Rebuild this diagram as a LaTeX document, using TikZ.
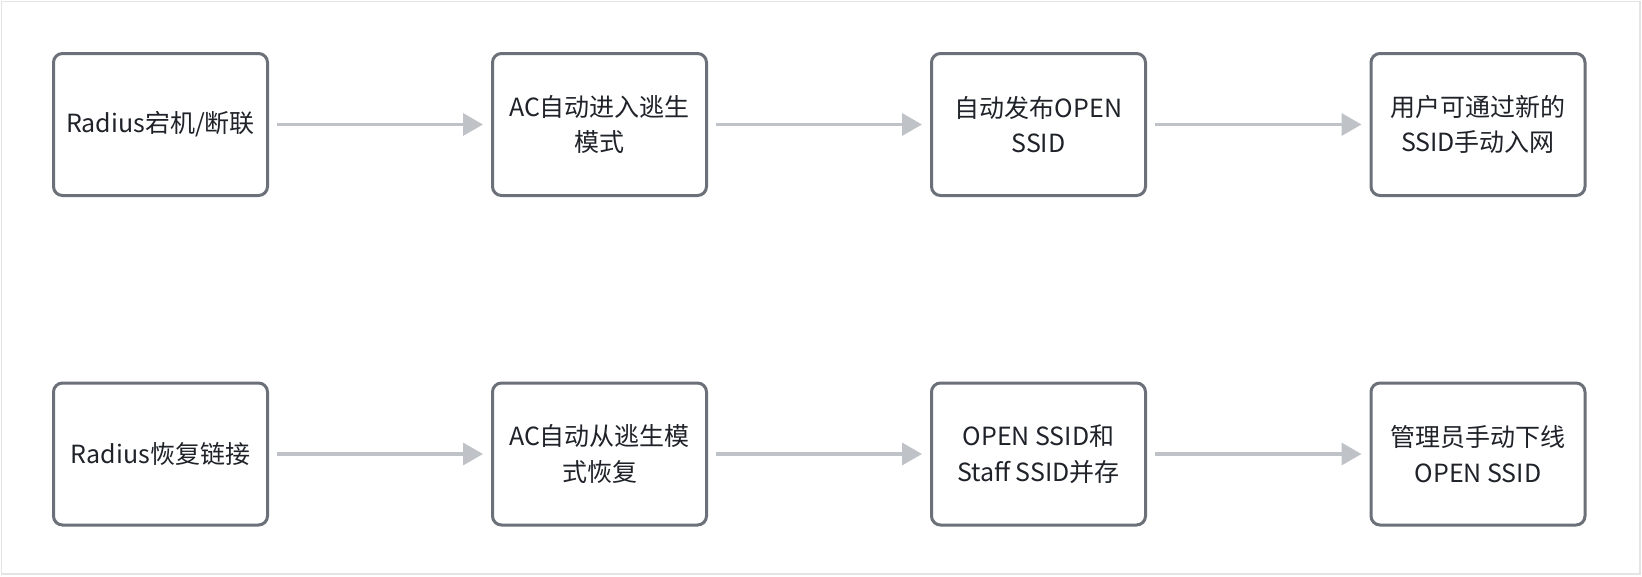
\documentclass[tikz,border=0pt]{standalone}
\usepackage{fontspec}
\setmainfont{Noto Sans CJK SC}
\usetikzlibrary{arrows.meta}
\definecolor{boxline}{HTML}{6B7079}
\definecolor{arrcol}{HTML}{BFC2C7}
\definecolor{txtcol}{HTML}{1F2329}
\definecolor{framecol}{HTML}{E3E4E6}
\tikzset{
  stepbox/.style={draw=boxline, line width=3pt, rounded corners=9pt, fill=white,
    minimum width=214pt, minimum height=142pt, inner sep=0pt, align=center,
    text=txtcol, font=\fontsize{25pt}{35.5pt}\selectfont},
  flow/.style={draw=arrcol, line width=3.5pt, -{Triangle[length=20pt,width=22pt]}, shorten <=8pt, shorten >=8pt}
}
\begin{document}
\begin{tikzpicture}[x=1pt,y=-1pt]
\useasboundingbox (0,0) rectangle (1642,576);
\fill[white] (0,0) rectangle (1642,576);
\draw[framecol, line width=1.5pt] (1.5,1.5) rectangle (1640,574);
\node[stepbox] (a1) at (160.5,124.5) {Radius宕机/断联};
\node[stepbox] (a2) at (599.5,124.5) {AC自动进入逃生\\模式};
\node[stepbox] (a3) at (1038.5,124.5) {自动发布OPEN\\SSID};
\node[stepbox] (a4) at (1478,124.5) {用户可通过新的\\SSID手动入网};
\node[stepbox] (b1) at (160.5,454) {Radius恢复链接};
\node[stepbox] (b2) at (599.5,454) {AC自动从逃生模\\式恢复};
\node[stepbox] (b3) at (1038.5,454) {OPEN SSID和\\Staff SSID并存};
\node[stepbox] (b4) at (1478,454) {管理员手动下线\\OPEN SSID};
\draw[flow] (a1) -- (a2);
\draw[flow] (a2) -- (a3);
\draw[flow] (a3) -- (a4);
\draw[flow] (b1) -- (b2);
\draw[flow] (b2) -- (b3);
\draw[flow] (b3) -- (b4);
\end{tikzpicture}
\end{document}
